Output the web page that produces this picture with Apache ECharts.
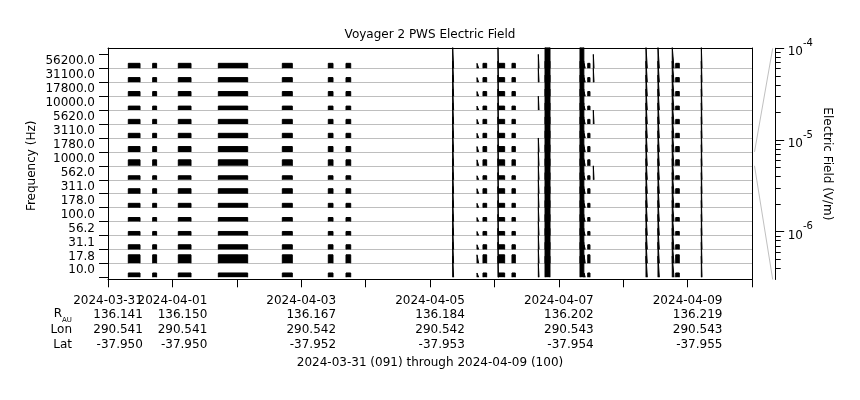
<!DOCTYPE html>
<html><head><meta charset="utf-8">
<script src="https://cdn.jsdelivr.net/npm/echarts@6/dist/echarts.min.js"></script>
<style>html,body{margin:0;padding:0;background:#fff}#c{width:860px;height:400px}</style>
</head><body><div id="c"></div>
<script>
// ---------------- data ----------------
const freqLabels = ['10.0','17.8','31.1','56.2','100.0','178.0','311.0','562.0','1000.0','1780.0','3110.0','5620.0','10000.0','17800.0','31100.0','56200.0'];
// typical electric field during data blocks, per channel (V/m), same order as freqLabels
const blockLevel = [1.8e-6, 1.05e-5, 2.1e-6, 1.6e-6, 1.6e-6, 1.8e-6, 2.4e-6, 1.6e-6, 3.7e-6, 2.8e-6, 2.1e-6, 2.1e-6, 1.6e-6, 2.1e-6, 2.1e-6, 2.4e-6];
// periods with data (UT)
const dataBlocks = [
  ['2024-03-31T07:34','2024-03-31T11:56'],
  ['2024-03-31T16:39','2024-03-31T18:07'],
  ['2024-04-01T02:12','2024-04-01T06:56'],
  ['2024-04-01T17:07','2024-04-02T04:03'],
  ['2024-04-02T16:58','2024-04-02T20:41'],
  ['2024-04-03T10:06','2024-04-03T11:51'],
  ['2024-04-03T16:42','2024-04-03T18:27'],
  ['2024-04-05T17:31','2024-04-05T18:09'],
  ['2024-04-05T19:45','2024-04-05T21:07'],
  ['2024-04-06T01:32','2024-04-06T03:49'],
  ['2024-04-06T06:33','2024-04-06T07:48'],
  ['2024-04-07T09:23','2024-04-07T09:52'],
  ['2024-04-07T10:47','2024-04-07T11:37'],
  ['2024-04-08T19:34','2024-04-08T20:54']
];
// broadband bursts seen in every channel
const burstLevel = 2e-3;
const bursts = [
  ['2024-04-05T08:27','2024-04-05T08:48'],
  ['2024-04-06T01:20','2024-04-06T01:32'],
  ['2024-04-06T18:52','2024-04-06T20:43'],
  ['2024-04-07T07:54','2024-04-07T09:20'],
  ['2024-04-08T08:30','2024-04-08T08:59'],
  ['2024-04-08T12:58','2024-04-08T13:28'],
  ['2024-04-08T18:17','2024-04-08T18:56'],
  ['2024-04-09T05:07','2024-04-09T05:23']
];
// bursts seen only in some channels
const partialLevel = 1e-4;
const partialBursts = [
  ['2024-04-06T16:22','2024-04-06T16:38', ['56200.0','31100.0','10000.0','1780.0','1000.0','562.0','311.0','178.0','100.0','56.2','31.1','17.8','10.0']],
  ['2024-04-07T12:52','2024-04-07T13:08', ['56200.0','31100.0','5620.0','562.0']]
];
const tickDates = ['2024-03-31','2024-04-01','2024-04-03','2024-04-05','2024-04-07','2024-04-09'];
const rAU    = ['136.141','136.150','136.167','136.184','136.202','136.219'];
const lonDeg = ['290.541','290.541','290.542','290.542','290.543','290.543'];
const latDeg = ['-37.950','-37.950','-37.952','-37.953','-37.954','-37.955'];
const rowNames = ['Lon','Lat'];
const timeRange = ['2024-03-31T00:00','2024-04-10T00:00'];
const fieldMin = 3e-7, fieldMax = 1e-4;     // range of one channel band
const scaleMajorExp = [-6, -5, -4];
const minorMantissa = [2,3,4,5,6,7,8,9];
const minorDecades = [-7, -6, -5];
const titleText = 'Voyager 2 PWS Electric Field';
const footerText = '2024-03-31 (091) through 2024-04-09 (100)';

// ---------------- layout ----------------
const FONT = 'DejaVu Sans';
const W = 860, H = 400;
const plotL = 108, plotR = 752, plotT = 48, plotB = 279.3;
const bandTop = 54.4, bandH = 13.93;
const scaleX = 775.7, scaleT = 48.3, scaleB = 279.5;
const lineH = 14.6, labelMargin = 14;
const DAY = 86400000;
const toMs = s => Date.parse(s + ':00Z');
const xMin = toMs(timeRange[0]), xMax = toMs(timeRange[1]);
const decPerBand = Math.log10(fieldMax / fieldMin);
const dayTicks = [];
for (let t = xMin; t <= xMax; t += DAY) dayTicks.push(t);
const labelTicks = tickDates.map(d => toMs(d + 'T00:00'));

const grids = [], xAxes = [], yAxes = [], series = [];
const txt = {color: '#000', fontFamily: FONT, fontSize: 12};
const hidden = {show: false};
const frameBox = {left: plotL, right: W - plotR, top: plotT, bottom: H - plotB, outerBoundsMode: 'none'};

function dateLabel(v) {
  const d = new Date(v).toISOString().slice(0, 10);
  const i = tickDates.indexOf(d);
  if (i < 0) return '';
  return '{v|' + d + '}\n{v|' + rAU[i] + '}\n{v|' + lonDeg[i] + '}\n{v|' + latDeg[i] + '}';
}
const dateRich = {v: {align: 'right', fontSize: 12, fontFamily: FONT, color: '#000', lineHeight: lineH}};

// frame grid (0)
grids.push(Object.assign({}, frameBox));
xAxes.push({
  gridIndex: 0, type: 'value', min: xMin, max: xMax, interval: DAY, position: 'bottom',
  axisLine: {show: true, onZero: false, lineStyle: {color: '#000', width: 1}},
  axisTick: hidden,
  splitLine: hidden,
  axisLabel: {show: true, margin: labelMargin, interval: 0, hideOverlap: false,
    customValues: labelTicks.slice(1), formatter: dateLabel, rich: dateRich},
  name: footerText, nameLocation: 'middle', nameGap: 78, nameMoveOverlap: false,
  nameTextStyle: txt
});
xAxes.push({gridIndex: 0, type: 'value', min: xMin, max: xMax, position: 'top',
  axisLine: {show: true, onZero: false, lineStyle: {color: '#000'}}, axisTick: hidden, axisLabel: hidden, splitLine: hidden});
yAxes.push({gridIndex: 0, type: 'value', min: 0, max: 1, position: 'left',
  axisLine: {show: true, onZero: false, lineStyle: {color: '#000'}}, axisTick: hidden, axisLabel: hidden, splitLine: hidden});
yAxes.push({gridIndex: 0, type: 'value', min: 0, max: 1, position: 'right',
  axisLine: {show: true, onZero: false, lineStyle: {color: '#000'}}, axisTick: hidden, axisLabel: hidden, splitLine: hidden});

// first date label on its own axis (it touches the next one)
const g0b = grids.length;
grids.push(Object.assign({}, frameBox));
xAxes.push({
  gridIndex: g0b, type: 'value', min: xMin, max: xMax, interval: DAY, position: 'bottom',
  axisLine: {show: false, onZero: false}, axisTick: hidden, splitLine: hidden,
  axisLabel: {show: true, margin: labelMargin, interval: 0, hideOverlap: false,
    customValues: labelTicks.slice(0, 1), formatter: dateLabel, rich: dateRich}
});
yAxes.push({gridIndex: g0b, type: 'value', min: 0, max: 1, show: false});

// daily ticks on a label-less axis
const g0t = grids.length;
grids.push(Object.assign({}, frameBox));
xAxes.push({
  gridIndex: g0t, type: 'value', min: xMin, max: xMax, interval: DAY, position: 'bottom',
  axisLine: {show: false, onZero: false}, splitLine: hidden, axisLabel: hidden,
  axisTick: {show: true, length: 8, interval: 0, customValues: dayTicks, lineStyle: {color: '#000'}}
});
yAxes.push({gridIndex: g0t, type: 'value', min: 0, max: 1, show: false});

// channel label grid
const gL = grids.length;
grids.push({left: plotL, right: W - plotR, top: bandTop, height: bandH * 16, outerBoundsMode: 'none'});
xAxes.push({gridIndex: gL, type: 'value', min: xMin, max: xMax, show: false});
yAxes.push({
  gridIndex: gL, type: 'category', data: freqLabels, boundaryGap: true, position: 'left',
  axisLine: {show: false, onZero: false},
  axisTick: {show: true, length: 9, lineStyle: {color: '#000'}},
  axisLabel: {show: true, margin: 13, color: '#000', fontFamily: FONT, fontSize: 12, padding: [0, 0, 4, 0], interval: 0},
  splitLine: {show: true, showMinLine: false, showMaxLine: false, lineStyle: {color: '#bebebe', width: 1}},
  name: 'Frequency (Hz)', nameLocation: 'middle', nameGap: 70, nameMoveOverlap: false,
  nameTextStyle: txt
});

// field scale: major ticks + labels
const minE = Math.log10(fieldMin), maxE = Math.log10(fieldMax);
const gS = grids.length;
grids.push({left: 700, right: W - scaleX, top: scaleT, bottom: H - scaleB, outerBoundsMode: 'none'});
xAxes.push({gridIndex: gS, type: 'value', min: 1, max: 2, show: false});
const scaleAxisIndex = yAxes.length;
yAxes.push({
  gridIndex: gS, type: 'value', position: 'right', min: minE, max: maxE,
  axisLine: {show: true, onZero: false, lineStyle: {color: '#000'}},
  axisTick: {show: true, length: 8.5, customValues: scaleMajorExp, lineStyle: {color: '#000'}},
  axisLabel: {show: true, margin: 12, customValues: scaleMajorExp,
    formatter: v => '{b|10}{s|' + Math.round(v) + '}',
    rich: {
      b: {fontSize: 12, fontFamily: FONT, color: '#000', lineHeight: 20, verticalAlign: 'bottom'},
      s: {fontSize: 10, fontFamily: FONT, color: '#000', lineHeight: 14, verticalAlign: 'top'}
    }},
  splitLine: hidden,
  name: 'Electric Field (V/m)', nameLocation: 'middle', nameRotate: -90, nameGap: 45, nameMoveOverlap: false,
  nameTextStyle: txt
});
// field scale: minor ticks
const minorExp = [];
minorDecades.forEach(d => minorMantissa.forEach(m => {
  const e = Math.log10(m) + d;
  if (e > minE && e < maxE) minorExp.push(e);
}));
const gM = grids.length;
grids.push({left: 700, right: W - scaleX, top: scaleT, bottom: H - scaleB, outerBoundsMode: 'none'});
xAxes.push({gridIndex: gM, type: 'value', min: 1, max: 2, show: false});
yAxes.push({
  gridIndex: gM, type: 'value', position: 'right', min: minE, max: maxE,
  axisLine: {show: false, onZero: false},
  axisTick: {show: true, length: 5, customValues: minorExp, lineStyle: {color: '#000'}},
  axisLabel: hidden, splitLine: hidden
});

// one grid per channel: log axis starting at the channel baseline, clipped at plot top
function channelData(k) {
  const iv = [];
  dataBlocks.forEach(([s, e]) => iv.push([toMs(s), toMs(e), blockLevel[k]]));
  bursts.forEach(([s, e]) => iv.push([toMs(s), toMs(e), burstLevel]));
  partialBursts.forEach(([s, e, chs]) => { if (chs.indexOf(freqLabels[k]) >= 0) iv.push([toMs(s), toMs(e), partialLevel]); });
  iv.sort((a, b) => a[0] - b[0]);
  const pts = [];
  iv.forEach(([s, e, v]) => { pts.push([s, fieldMin], [s, v], [e, v], [e, fieldMin], [e, '-']); });
  return pts;
}
const chGrid = [];
freqLabels.forEach((f, k) => {
  const base = bandTop + bandH * (16 - k);
  const g = grids.length;
  chGrid.push(g);
  grids.push({left: plotL, right: W - plotR, top: plotT, height: base - plotT, outerBoundsMode: 'none'});
  const xi = xAxes.length, yi = yAxes.length;
  xAxes.push({gridIndex: g, type: 'value', min: xMin, max: xMax, show: false});
  yAxes.push({gridIndex: g, type: 'log', logBase: 10, min: fieldMin,
    max: fieldMin * Math.pow(10, decPerBand * (base - plotT) / bandH), show: false});
  series.push({
    type: 'line', name: f + ' Hz', xAxisIndex: xi, yAxisIndex: yi, data: channelData(k),
    showSymbol: false, symbol: 'none', connectNulls: false, silent: true, clip: true, z: 3,
    lineStyle: {color: '#000', width: 1},
    areaStyle: {color: '#000', opacity: 1, origin: 'start'}
  });
});

const chart = echarts.init(document.getElementById('c'), null, {renderer: 'canvas'});
chart.setOption({
  animation: false,
  backgroundColor: '#fff',
  textStyle: {fontFamily: FONT, color: '#000'},
  title: {text: titleText, left: 'center', top: 24, textStyle: {fontSize: 12, fontWeight: 'normal', color: '#000', fontFamily: FONT}},
  grid: grids, xAxis: xAxes, yAxis: yAxes, series: series
});

// side decorations: row names and the band-to-scale guide lines
const rowY = r => plotB + labelMargin + lineH * (r + 0.5);
const graphics = [
  {type: 'text', x: 62, y: rowY(1) - 1, style: {text: 'R', fill: '#000', font: '12px "DejaVu Sans"', align: 'right', verticalAlign: 'middle'}},
  {type: 'text', x: 62, y: rowY(1) + 4.5, style: {text: 'AU', fill: '#000', font: '7px "DejaVu Sans"', align: 'left', verticalAlign: 'middle'}}
];
rowNames.forEach((n, i) => graphics.push({type: 'text', x: 72, y: rowY(i + 2),
  style: {text: n, fill: '#000', font: '12px "DejaVu Sans"', align: 'right', verticalAlign: 'middle'}}));
const refCh = freqLabels.indexOf('1000.0');
const pTop = chart.convertToPixel({gridIndex: chGrid[refCh]}, [xMax, fieldMax]);
const pBot = chart.convertToPixel({gridIndex: chGrid[refCh]}, [xMax, fieldMin]);
const sTop = chart.convertToPixel({yAxisIndex: scaleAxisIndex}, maxE);
const sBot = chart.convertToPixel({yAxisIndex: scaleAxisIndex}, minE);
graphics.push({type: 'line', shape: {x1: pTop[0] + 2.5, y1: pTop[1], x2: scaleX - 3, y2: sTop}, style: {stroke: '#c0c0c0', lineWidth: 1}});
graphics.push({type: 'line', shape: {x1: pBot[0] + 2.5, y1: pBot[1], x2: scaleX - 3, y2: sBot}, style: {stroke: '#c0c0c0', lineWidth: 1}});
chart.setOption({graphic: graphics});
</script>
</body></html>
